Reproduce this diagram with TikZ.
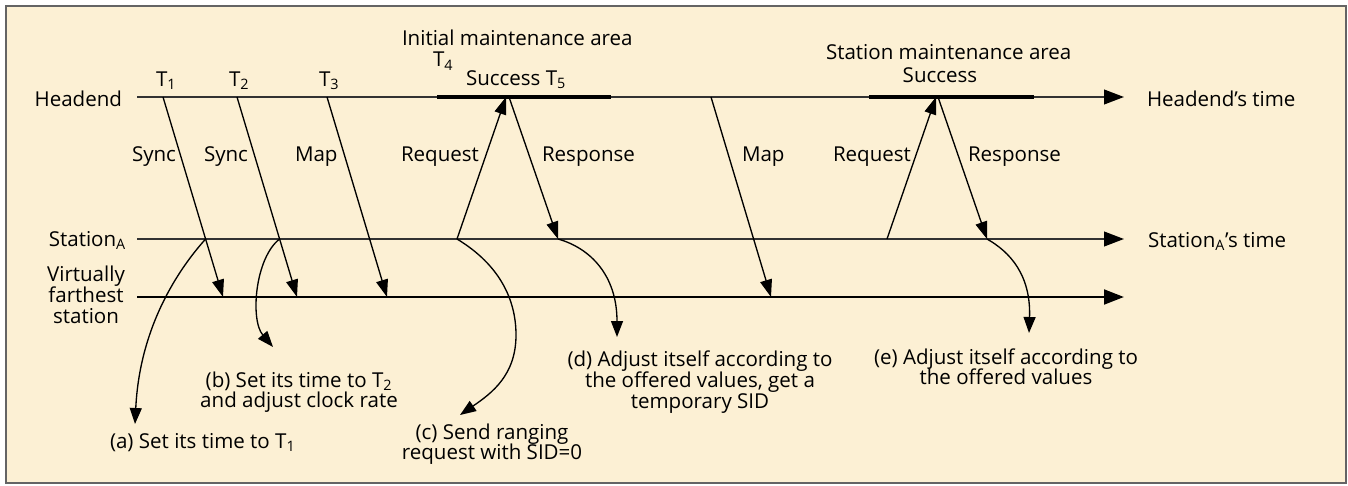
\documentclass[tikz,border=0pt]{standalone}
\usepackage{fontspec}
\setmainfont{Open Sans}
\usetikzlibrary{arrows.meta,calc}
\definecolor{paper}{RGB}{252,240,212}
\definecolor{rim}{RGB}{100,100,100}
\definecolor{axisgray}{RGB}{50,50,50}
% label font with a fixed line pitch (no extra \lineskip)
\newcommand\lblfont[1]{\fontsize{15.4}{#1}\selectfont\lineskiplimit-100pt\relax}
\tikzset{
  txt/.style={inner sep=0pt,outer sep=0pt,font={\lblfont{15}}},
  timeline/.style={line width=1.5pt,draw=axisgray,-{Triangle[length=15pt,width=11pt,color=black]}},
  farline/.style={line width=2.2pt,draw=black,-{Triangle[length=15pt,width=11pt,color=black]}},
  areabar/.style={line width=3.5pt,draw=black,line cap=butt},
  msg/.style={line width=1pt,draw=black,-{Triangle[length=13pt,width=9pt]}},
  effect/.style={line width=1pt,draw=black,-{Triangle[length=12pt,width=9pt]}}
}
\begin{document}
\begin{tikzpicture}[x=0.75pt,y=-0.75pt]
  \useasboundingbox (0,0) rectangle (1348,485);
  \fill[paper] (6,6) rectangle (1346,483);
  \draw[rim,line width=1.5pt] (6,6) rectangle (1346,483);

  % time axes
  \coordinate (hA) at (137,97);  \coordinate (hB) at (1124,97);
  \coordinate (sA) at (137,239); \coordinate (sB) at (1124,239);
  \coordinate (vA) at (137,297); \coordinate (vB) at (1124,297);
  \draw[timeline] (hA) -- (hB);
  \draw[timeline] (sA) -- (sB);
  \draw[farline] (vA) -- (vB);

  % maintenance areas on the headend axis
  \coordinate (ima0) at (437,97); \coordinate (ima1) at (611,97);
  \coordinate (sma0) at (869,97); \coordinate (sma1) at (1034,97);
  \draw[areabar] (ima0) -- (ima1);
  \draw[areabar] (sma0) -- (sma1);

  % axis names
  \node[txt,anchor=base east] (headend) at (122,106) {Headend};
  \node[txt,anchor=base east] (stationA) at (126,246) {Station\textsubscript{A}};
  \node[txt,align=center,anchor=base,font={\lblfont{15.4}}] (farthest) at (86,323) {Virtually\\farthest\\station};
  \node[txt,anchor=base west] (hdtime) at (1147,106) {Headend's time};
  \node[txt,anchor=base west] (statime) at (1148,247) {Station\textsubscript{A}'s time};

  % instants and areas
  \node[txt,anchor=base west] (T1) at (156,86) {T\textsubscript{1}};
  \node[txt,anchor=base west] (T2) at (229,86) {T\textsubscript{2}};
  \node[txt,anchor=base west] (T3) at (319,86) {T\textsubscript{3}};
  \node[txt,anchor=base west] (T4) at (433,67) {T\textsubscript{4}};
  \node[txt,anchor=base west] (succ1) at (466,85) {Success T\textsubscript{5}};
  \node[txt,anchor=base west] (ima) at (402,46) {Initial maintenance area};
  \node[txt,anchor=base west] (sma) at (826,60) {Station maintenance area};
  \node[txt,anchor=base] (succ2) at (940,83) {Success};

  % messages
  \coordinate (t1) at (163,97);  \coordinate (f1) at (223,297);
  \coordinate (t2) at (237,97);  \coordinate (f2) at (297,297);
  \coordinate (t3) at (327,97);  \coordinate (f3) at (387,297);
  \coordinate (rq1s) at (457,239); \coordinate (rq1e) at (506,97);
  \coordinate (rs1s) at (509,97);  \coordinate (rs1e) at (558,239);
  \coordinate (t6) at (711,97);  \coordinate (f6) at (771,297);
  \coordinate (rq2s) at (887,239); \coordinate (rq2e) at (936,97);
  \coordinate (rs2s) at (938,97);  \coordinate (rs2e) at (987,239);
  \draw[msg] (t1) -- (f1);
  \draw[msg] (t2) -- (f2);
  \draw[msg] (t3) -- (f3);
  \draw[msg] (rq1s) -- (rq1e);
  \draw[msg] (rs1s) -- (rs1e);
  \draw[msg] (t6) -- (f6);
  \draw[msg] (rq2s) -- (rq2e);
  \draw[msg] (rs2s) -- (rs2e);

  \node[txt,anchor=base west] (sync1) at (132,161) {Sync};
  \node[txt,anchor=base west] (sync2) at (204,161) {Sync};
  \node[txt,anchor=base west] (map1) at (295,161) {Map};
  \node[txt,anchor=base west] (req1) at (401,161) {Request};
  \node[txt,anchor=base west] (resp1) at (542,161) {Response};
  \node[txt,anchor=base west] (map2) at (742,161) {Map};
  \node[txt,anchor=base west] (req2) at (833,161) {Request};
  \node[txt,anchor=base west] (resp2) at (968,161) {Response};

  % reactions of the station
  \coordinate (a0) at ($(t1)!0.71!(f1)$);
  \coordinate (b0) at ($(t2)!0.71!(f2)$);
  \coordinate (aTip) at (135,424);
  \coordinate (bTip) at (273,347);
  \coordinate (cTip) at (460,415);
  \coordinate (dTip) at (617,337);
  \coordinate (eTip) at (1029,333);
  \draw[effect] (a0) .. controls (185,262) and (140,320) .. (aTip);
  \draw[effect] (b0) .. controls (255,258) and (250,320) .. (bTip);
  \draw[effect] (rq1s) .. controls (500,265) and (516,300) .. (516,335)
                       .. controls (516,375) and (492,393) .. (cTip);
  \draw[effect] (rs1e) .. controls (590,248) and (617,275) .. (dTip);
  \draw[effect] (rs2e) .. controls (1010,252) and (1031,275) .. (eTip);

  \node[txt,anchor=base west] (noteA) at (110,448) {(a) Set its time to T\textsubscript{1}};
  \node[txt,align=center,anchor=base] (noteB) at (299,407)
       {(b) Set its time to T\textsubscript{2}\\and adjust clock rate};
  \node[txt,align=center,anchor=base] (noteC) at (492,459)
       {(c) Send ranging\\request with SID=0};
  \node[txt,align=center,anchor=base,font={\lblfont{15.6}}] (noteD) at (700,408)
       {(d) Adjust itself according to\\the offered values, get a\\temporary SID};
  \node[txt,align=center,anchor=base] (noteE) at (1006,384)
       {(e) Adjust itself according to\\the offered values};
\end{tikzpicture}
\end{document}
